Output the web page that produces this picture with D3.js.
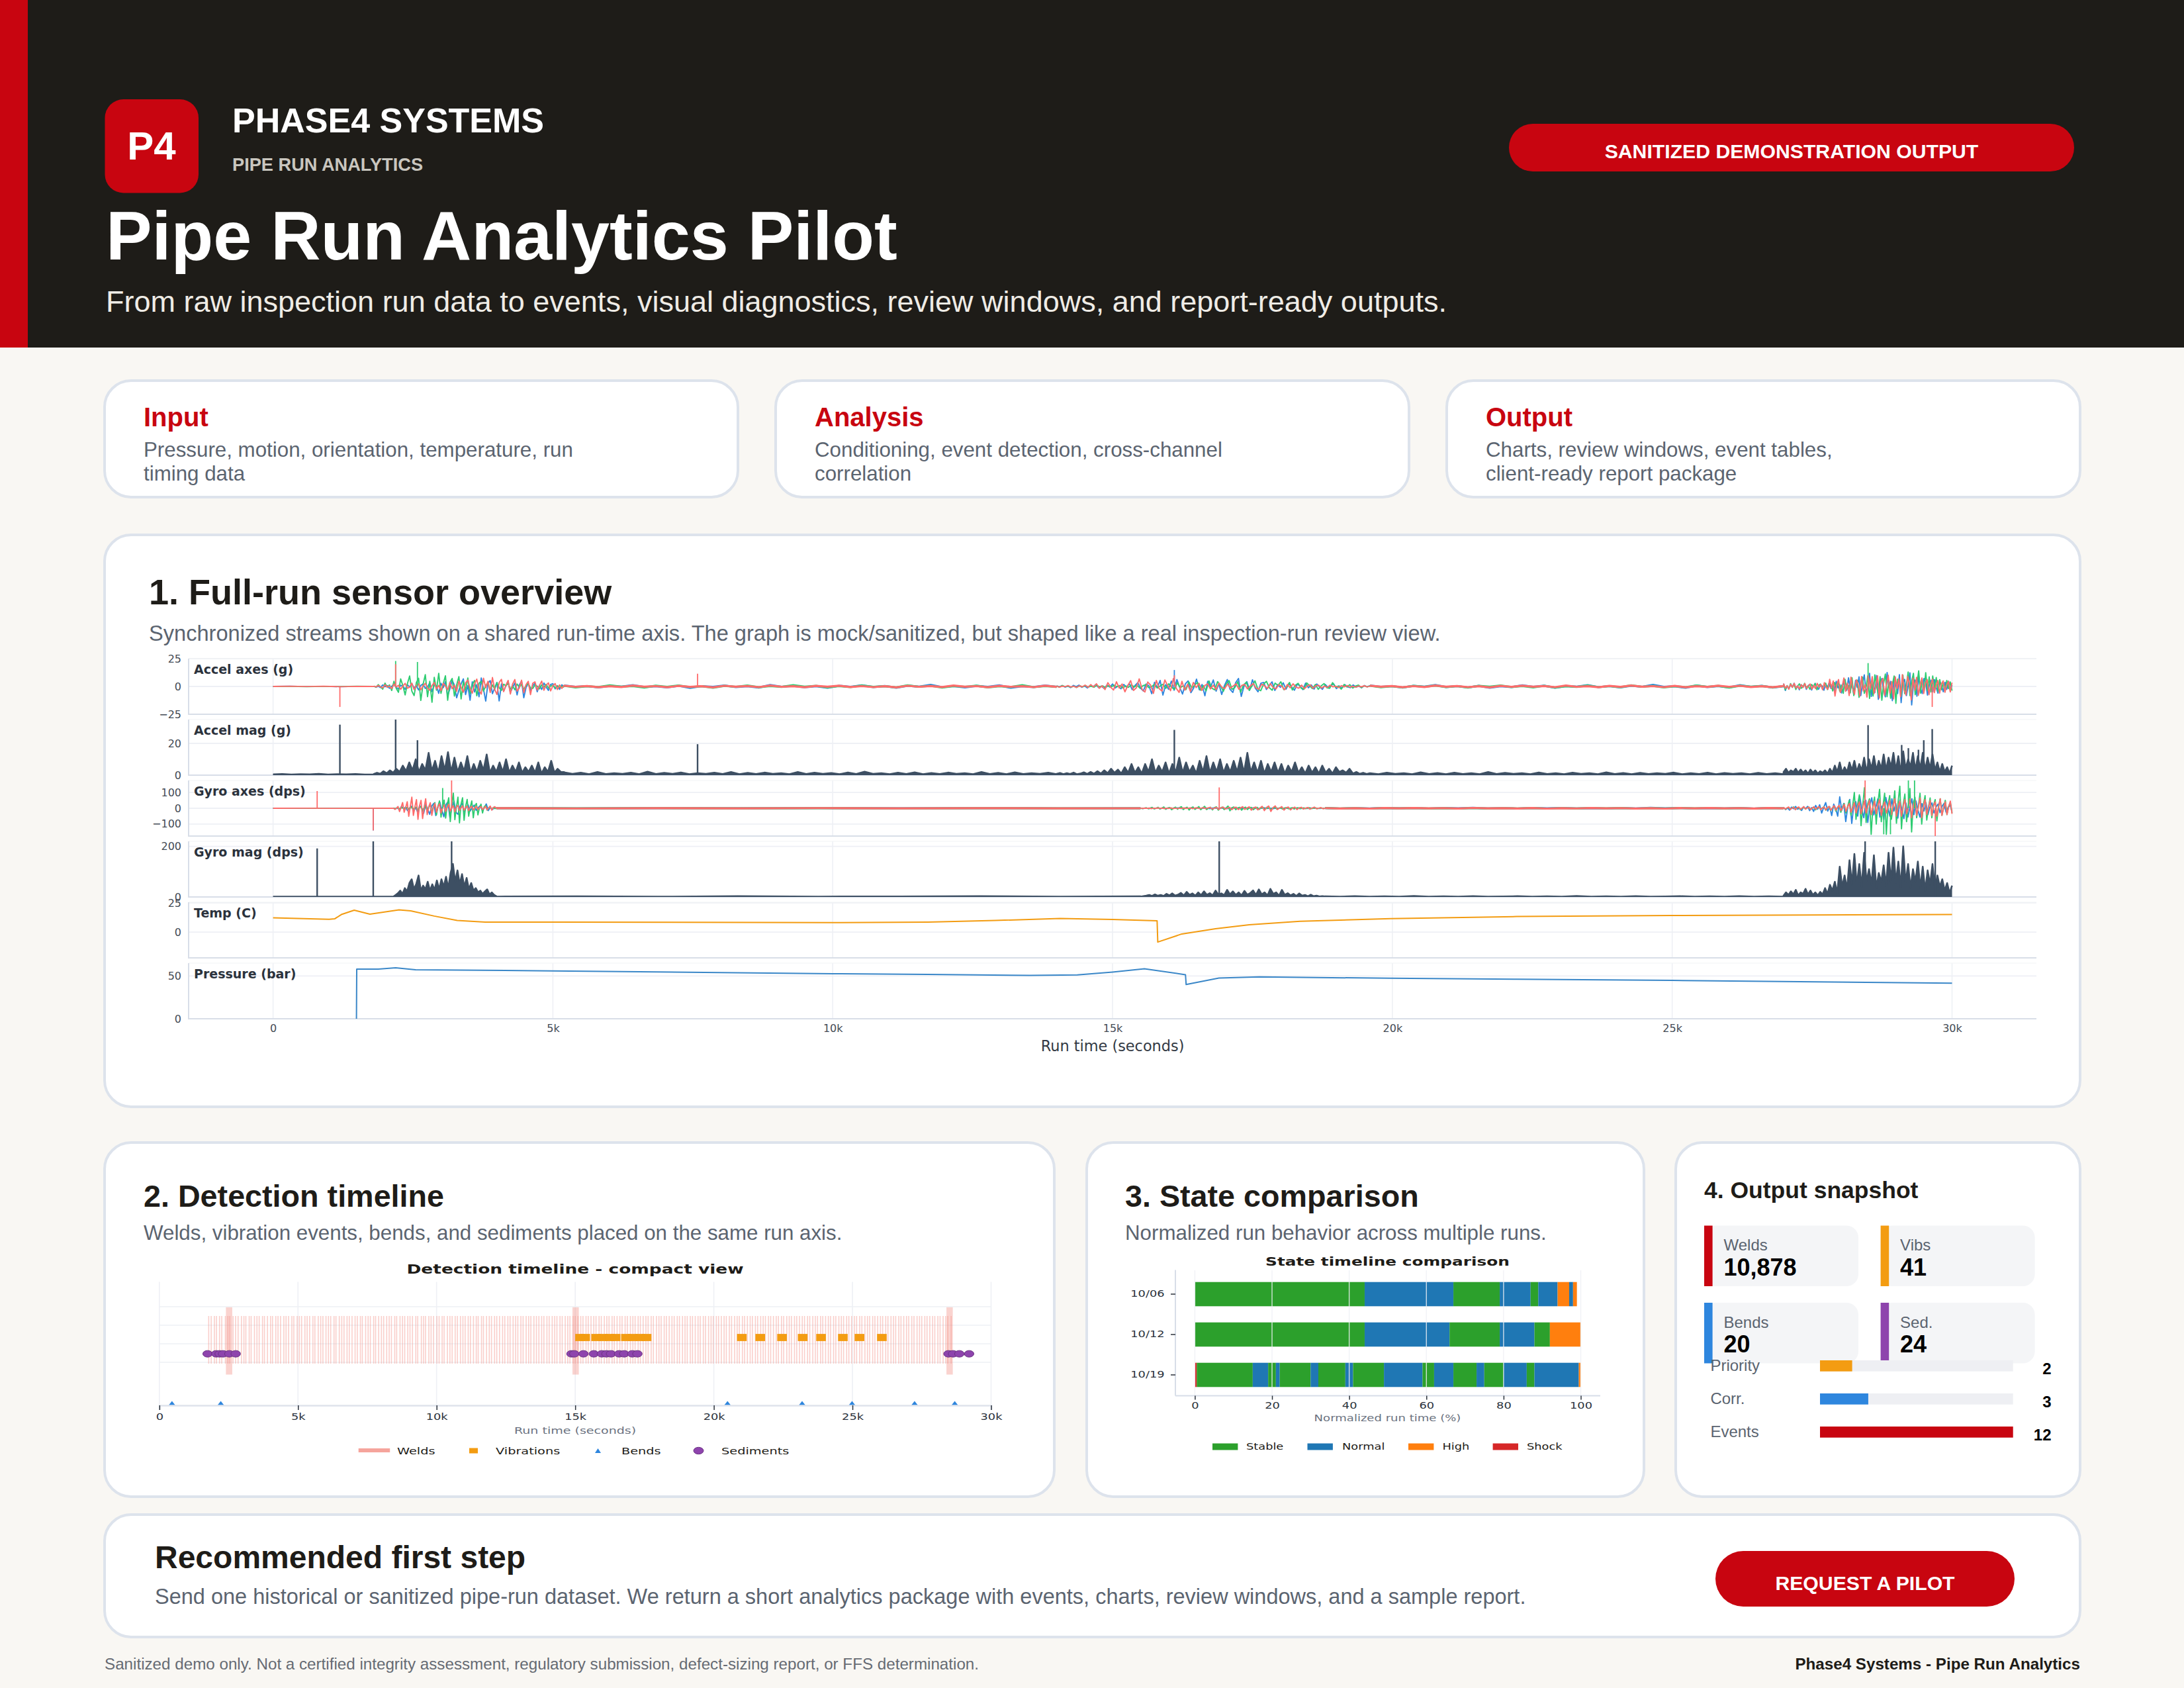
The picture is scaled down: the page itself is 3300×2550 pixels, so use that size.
<!DOCTYPE html>
<html>
<head>
<meta charset="utf-8">
<script src="https://cdn.jsdelivr.net/npm/d3@7"></script>
<style>
  html, body { margin: 0; padding: 0; background: #f9f7f3; }
  svg { display: block; }
</style>
</head>
<body>
<svg id="page" width="3300" height="2550"></svg>
<script>
// ---- sensor overview: values, one inner list per time span
const accelSpans = [[0, 1800], [1800, 5200], [5200, 14000], [14000, 19600], [19600, 26990], [26990, 30000]];
const gyroSpans = [[0, 2150], [2150, 3990], [3990, 15500], [15500, 18800], [18800, 26990], [26990, 30000]];
const spanWidths = [1.8, 1.9, 3.2, 1.9, 3.2, 1.9];

const accelX = [
  [0, .2, -.1, .1, -.2, .1, 0],
  [.3, -.6, .2, -1, 1.4, -.3, .8, -1.7, .2, 1.9, -.8, -2.2, 1, .3, -2.6, 1.6, -.5, 2.4, -1.3, .6, -3.1, .9, 2.3, -1.8, -.4, 3.3, -4.6, 1.2, .4, -6.2, 2.8, -1.1, 4.3, -8.4, -2, 5.6, 1.3, -10.2, -3.5, 2.4, 6.8, -7.3, .8, -12.4, 4.2, -5, 1.6, -9.3, 7.6, -2.4, -13.2, 3, 5.2, -6.5, -1.2, 3.6, -13, 2.2, -4.3, .6, 4.6, -5.4, -.9, 3.2, -7.6, 1.4, 4.8, -10.2, -1, 2.8, -3.6, .7, 2.9, -4.8, 1.1, -2.7, 3.1, -.6, -3.5, 1.8, 2.4, -2.2, .4, -2.6, 1.5, -.4],
  [.8, -.4, .3, -.9, .5, -.2, 1.2, -.5, .2, -.8, .6, -1.3, .3, -.4, .9, -.6, .2, -1, 1.3, -.3, .5, -.7, .2, -1.2, .6, -.3, 1, -.5, .4, -1.1, .7, -.2, 1.4, -.6, .3, -.9, .5, -.4, 1, -1.2, .2, -.5, .8, -.3],
  [.5, -.3, .8, -.6, .3, -1, .9, -.2, 1.2, -.7, .4, -1.3, .8, -.3, 1.6, -1, .3, -1.8, 1.2, -.5, 2.2, -1.4, .4, -2.1, 1.8, -.7, 2.6, -2.8, .8, 3.4, -1.5, -4, 2.2, .6, -6.5, 3.8, -1.2, 5.4, -7.8, 1.6, -2.6, 4.8, -3.4, 6.2, -.8, -6.8, 2.3, 5, -5.6, -1.4, 6.6, -3, 1.8, -8.4, 4.6, -.7, 5.8, -4.2, 2.4, -7.2, .9, 6.2, -2.6, -5.4, 3.4, 7.2, -9, .5, 4.3, -3.2, 6, -1.4, -4.8, 2.9, 3.6, -2.7, .7, 4.2, -3.6, 1.6, -.8, 3.2, -2.4, 2.6, -.5, -3.4, 2, .6, -2.8, 3, -1.2, 1.4, -2.4, 2.2, -.4, -2.6, 1.8, -1, .6, 2.4, -1.9, .5, -1.5, 1.6, -.3, -1.1, 1.4, -.6, .4, -1.2, .9, -.3, .7],
  [.9, -.4, .3, -1, .6, -.2, 1.3, -.5, .3, -.9, .5, -1.2, .2, -.6, 1, -.3, .7, -1.1, .4, -.2, 1.2, -.6, .3, -.9, .6, -.3, 1.4, -.4, .2, -1.2, .8, -.5, .3, -.8, 1.1, -.3, .5, -1, .2],
  [2.6, -3.6, .6, -2.2, 1.8, -.7, 2.9, -1.4, .5, -3, 1.6, -.4, 2.4, -2.6, .8, 1.9, -3.2, .3, 2.8, -1.2, -2.5, 1.4, .4, -3.4, 2.2, -.8, 3.4, -1.8, .7, -4.2, 4.6, -1.3, 1.8, -5.8, 4.2, -.6, -3.4, 7.8, -2.4, 1.6, -6.8, 5.4, -.9, 8.6, -8.2, 2.6, 10.4, -4.8, -.7, 11.8, -9, 3.2, -5.6, 9.8, -11.6, 1.4, 7.2, -3.8, -9.4, 12.6, -.8, 4.6, -12.8, 8.4, 1.6, -6.4, 10.6, -14.6, 3, 6.4, -8.2, .8, 12.2, -16.6, 2.6, 5.8, -8.8, 9.6, -1.6, -6.4, 7.2, 3, -7.8, 1.4, 5.6, -4.8, 6.2, -1.2, -6, 4.6, .8, -4.8, 3.8, -2.6, 4.6, -3.4, 1.2]
];
const accelY = [
  [0, .1, -.2, .1, -.1, .2, 0],
  [.3, -.7, 1.6, -.4, -2.4, 3, -.8, 1.4, -3.6, 4.6, -1.6, -5.2, 6.8, .6, -7.6, 2.4, 9.4, -4.2, -8.2, 3.4, 7.4, -12.6, 1.8, 10.6, -9.2, 4.6, -14.2, 8.2, -3.4, 11.8, -6.2, 2.4, 9.6, -12.4, 3.6, 7.2, -8.6, 1.2, 8.8, -11.2, 4.4, -3.2, 7.6, -6.6, 1.6, 5.4, -8.4, 2.8, 4.6, -4.2, .7, 3.6, -3.2, 1.4, -2.4, 3.4, -1, -3.6, 2, .6, 2.8, -2.4, .5, -3, 2.2, -.6, 1.8, -2.4, .7, 2.6, -1.3, -1.8, 1.4, .3, -2.2, 1.5, -.6, 1.8, -1.4, .4, 1, -1.5, .7, -1, .3, -.6],
  [.6, -.8, .2, -.5, 1, -.2, .4, -1, .7, -.3, .9, -.6, .2, -1.1, .5, -.3, .8, -.7, .3, -.4, 1.1, -.2, .5, -.9, .3, -.6, .9, -.4, .2, -.8, 1, -.3, .6, -1, .4, -.3, .7, -.8, .2, -.5, 1.1, -.6, .3, -.4],
  [.3, -.6, .8, -.2, .4, -.7, .2, -.9, .6, -.3, .8, -.5, .2, -.7, 1, -.3, .5, -1, .7, -.4, 1.2, -.3, .9, -1.4, .5, -.8, 1.4, -.4, 1, -1.6, .6, 1.5, -1, -.3, 1.8, -1.4, .4, 2, -1.7, 2.4, -.7, -2.6, 3.4, -1.2, .6, -2.8, 4, -1.4, 1, 3.6, -3.4, .8, -4, 5, -1.6, -3, 4.4, .7, -4.4, 2.4, 5.2, -2.6, -1, 4.2, -5.2, 1.4, 3.8, -3.6, .6, 5, -2.4, -3.8, 2.2, 4.6, -1.2, -3.4, 3, .9, 4.2, -2.8, -.8, 3.6, -3.2, 1, 2.8, -1.4, -2.6, 3.2, .6, -2, 1.8, -2.6, .5, 2.6, -1.2, -1.6, 3.4, -.8, .4, -2.4, 1.8, -.5, 1.6, -1.4, .3, 1.2, -1, .6, -.4, .5],
  [.6, -.7, .2, -.9, .5, -.3, .8, -.6, .3, -1, .6, -.2, .9, -.5, .3, -.8, .6, -1, .2, -.4, .9, -.6, .3, -.7, 1, -.3, .5, -.9, .2, -.6, .8, -.3, .5, -1, .7, -.2, .4, -.8, .3],
  [1.6, -3, .8, -2.2, 2.6, -.7, 1.8, -2.8, .4, 2.4, -1.6, -.6, 2.8, -1.4, .7, -2.6, 1.8, -.5, 2.6, -3, .9, 2.2, -1.8, .5, 3, -2.8, .6, 1.8, -4, 3.6, -.8, 4.6, -4.2, 1.2, -6.2, 6.4, -2.4, .9, -5.8, 7.8, -8.2, 2.2, 5.6, -9.8, 3.4, 8.4, -6.2, -1, 9.6, -10.8, 4.2, -8.6, 10.4, .8, -7.4, 8.8, -12.4, 2.6, 11.2, -9.2, 5.4, -10.6, 1.6, 9.4, -15.2, 6.6, 3, -8, 10.2, -6.4, 1.8, 13, -8.2, 4.6, 11.8, -7.4, 2.4, 14, -6, 6.6, -5.2, 12.4, -3.6, 8.6, -5, 9.4, -2.8, 8, -4.4, 6.2, -3, 3.6, -4.8, 5.4, -2, 4, -3.8]
];
const accelZ = [
  [0, .2, -.1, .2, -.2, .1, 0],
  [.2, -.4, .8, -.3, -1.2, 1.5, -.6, .4, -2, 2.2, -.5, 1, -2.6, .4, 2.8, -1.6, -.7, 3, -2.8, .9, 2.4, -3, .5, 2.8, -1.4, -3.4, .8, 3.6, -2.2, 1, -3.8, 2.8, .4, -3, 3.6, -2, 1.2, -4.4, 4.8, -.9, -5.2, 3.2, 5.8, -1.6, -6, 2.2, 6.6, -3.4, -6.8, 7.4, -1.2, 4.6, -5.4, 8, -2.6, -7.2, 3.6, 6.4, -4.6, .9, 5.4, -6.8, 2.2, 6.2, -4.2, -1.4, 5.6, -5.6, 1.6, 4.6, -7.4, 2.8, 4.2, -3.2, .8, 4.8, -3.4, 1.2, 3.2, -4, .6, 2.6, -2.8, 1.4, -1.8, 1.2],
  [.7, -.3, .4, -.7, .2, -.5, .8, -.2, .3, -.7, .5, -.4, .2, -.8, .6, -.2, .4, -.6, .8, -.3, .2, -.7, .5, -.2, .7, -.5, .3, -.6, .2, -.8, .6, -.3, .4, -.5, .8, -.2, .3, -.7, .5, -.3, .2, -.6, .7, -.4],
  [.4, -.7, .3, -.2, .8, -.5, .2, -.9, .6, -.3, 1.2, -.8, 1.6, -.4, 2.4, -1.6, .6, -2.8, 3.4, -.8, -3.2, 4.2, -1.4, 2.2, -4.8, .9, 5.2, -3.6, -1.2, 6.8, -2.6, -5, 4, 1.2, -6.2, 5.4, -2, -4.2, 5.8, .7, -3.8, 7.2, -1.6, -5.4, 4.6, -3.4, 2, -4.6, 3.6, -1, 2.8, -3.6, .8, 2.4, -2.2, 1.2, -2.8, 3, -.6, -2, 2.2, -1.4, .5, 2.4, -2.6, 1, 1.8, -2.2, .6, 2.6, -1.4, -2.4, 2, .5, -1.8, 2.6, -.9, -2.2, 1.6, .4, -3, 1.8, -1.2, 2.4, -.7, -1.6, 1.2, -2, .4, 1.5, -1.7, .6, 1.1, -1.4, .3, -.9, 1.2, -.4, .2, -1, .7, -.3, .8, -.6, .2, -.7, .4, -.3, .6, -.4, .2],
  [.7, -.2, .4, -.7, .3, -.5, .8, -.2, .4, -.6, .2, -.8, .5, -.3, .7, -.2, .4, -.6, .8, -.3, .2, -.7, .5, -.4, .8, -.2, .3, -.6, .5, -.7, .2, -.4, .7, -.3, .6, -.5, .2, -.7, .4],
  [2.6, -1.6, .6, -2.4, 2, -.7, 2.8, -1.4, .5, -2.2, 1.6, -.9, 2.6, -1.8, .4, 2.2, -2.4, 1, -2, 2.8, -.6, 1.8, -3, 3.4, -.8, -2.6, 6.4, -1.6, 5, -8.6, 1.4, 6.2, -5.4, -1, 7.6, -4.4, 3, -8.2, 8.4, -1.6, -7, 6, 2.4, -8.6, 9, -4, 1.6, -9.6, 7.8, -2, 8.8, -6.4, -.8, 9.6, -10.4, 3.6, 7.2, -8, 1.2, 10.2, -6.2, 4.4, -11.2, 8.6, -1.8, 6.8, -9.2, 10.6, -3, -7.6, 9, 2.2, -12.2, 7.4, -3.4, 8.2, -8, .9, 7.6, -6.4, 2.6, 6.2, -7.4, 1.6, 6.6, -5.6, .8, 5.4, -6, 2.2, 5, -5.2, 1.4, 4.6, -5, 3.4]
];
const accelMag = [
  [.5, .7, .4, .6, .5, .8, .4, .6, .5, .7, .4, .5],
  [.7, 1.5, .8, 2.5, 1.2, 3, 1.5, 4, 2, 6, 2.5, 8, 3, 10, 2, 7, 3, 14, 2.5, 9, 1.5, 12, 3, 14.5, 2, 11, 2, 8, 2.5, 12, 1.5, 7, 2, 9, 3, 13, 1.5, 6, 2, 8, 2, 10, 1.5, 6, 2, 8, 1.5, 5, 2, 6, 1.5, 8, 1, 5, 2, 9, 1.5, 4, 2, 2],
  [1.8, .8, 1.5, .6, 2, .7, 1.2, .8, 1.5, .6, 2.2, .7, 1.4, .8, 1.7, .6, 1.2, .8, 1.5, .7, 2, .6, 1.4, .7, 1.6, .8, 1.2, .6, 2, .7, 1.5, .8, 1.3, .6, 1.7, .7, 2.2, .8, 1.2, .6, 1.5, .7, 1.8, .6, 1.3, .7, 1.6, .8, 1.2, .6, 2, .7, 1.4, .6, 1.8, .7, 1.2, .8, 1.5, .6],
  [.8, 1.4, .6, 1.2, .7, 1.6, .6, 1, 1.8, .8, 2, .9, 2.5, 1, 3, 1.2, 4, 1.5, 3.5, 1, 5, 1.5, 7, 1.5, 5, 1, 7, 2, 10, 1.5, 6, 2, 8, 1, 7, 2, 11, 1.5, 8, 2, 6, 1, 9, 2, 12, 1.5, 8, 2, 10, 1.5, 7, 2, 9, 2, 11, 1.5, 14, 2, 8, 1.5, 9, 1, 7, 2, 8, 1.5, 7, 1, 6, 2, 8, 1.5, 5, 1, 6, 1.5, 5, 1, 6, 1.5, 4, 1, 5, 2, 3, 1.5, 4, 1, 2, .8, 1.5, .7, 1.2],
  [1.2, .6, 1.5, .8, 1.2, .6, 1.8, .7, 1.3, .6, 1.5, .7, 1.2, .6, 2, .7, 1.4, .8, 1.2, .6, 1.7, .7, 1.2, .6, 1.5, .8, 1.2, .6, 1.8, .7, 1.3, .6, 1.4, .7, 1.2, .8, 1.6, .6, 1.2, .7, 1.5, .6, 1.3, .8, 1.2, .6, 1.4, .7, 1.2, .6],
  [2, 4, 1.5, 3, 2, 4, 1.5, 3.5, 1.5, 3, 1, 3.5, 1.5, 3, 1, 2.5, 1.5, 3, 1, 4, 1.5, 6, 2, 8, 1.5, 5, 2, 8, 3, 9, 2, 7, 3, 11, 2, 10, 4, 12, 3, 9, 4, 13, 3, 11, 5, 14, 3, 12, 2, 15, 4, 10, 5, 14, 3, 12, 4, 14, 3, 11, 4, 13, 3, 8, 2, 7, 2, 5, 1, 6]
];
const accelSpikeT = [1194, 2190, 2580, 7585, 16104, 28500, 29646];
const accelSpikeX = [0, 0, 0, 0, 14.8, 0, 0];
const accelSpikeY = [0, 22.9, 22, 0, 0, 21, 0];
const accelSpikeZ = [-18.4, 20, 0, 11.5, 10, 10, -18.4];
const accelMagSpikes = [[1194, 31.8], [2190, 35], [2580, 22], [7585, 19.5], [16104, 28.5], [28500, 31.5], [29100, 19], [29220, 17], [29400, 16], [29495, 22], [29646, 29]];

const gyroX = [
  [0, .5, -.5, .5, 0],
  [1, -4, 2, -9, 11, -3, 6, -15, 2, 13, -19, 5, -24, 17, 3, -32, 26, -8, -38, 14, 31, -46, 6, 38, -12, -54, 22, 41, -60, 9, 46, -26, -38, 12, 30, -24, 5, 22, -18, 3, 20, -13, 4, 16, -11, 2, 27, -15, 6, -8, 3, 0],
  [.8, -1, .6, -.8, 1, -.6, .8, -1, 0],
  [.7, -1.4, .4, -1.8, 1.2, -.5, 1.8, -1, .4, -2, 1.3, -1.6, .6, 1.9, -.9, -1.4, .8, -2.2, 1.6, -.6, 2.2, -1.8, .5, 1.4, -2.4, .9, 2, -1.2, .4, 1.6, -2.6, .7, -1.8, 2.4, -.8, 1, -2, 1.6, -.4, 2.6, -1.3, -2, .8, 1.9, -1, .5, -2.2, 1.4, -.7, 1.6, -1.4, .5, -1.2, 1.6, -.6, .9, -1.6, .4, -.8, 1.2, -.4, .6, -1, .3, 0],
  [1.4, -2, .5, -1.4, 1.9, -.8, 1, -2.2, 1.6, -.4, 2.6, -1.6, .6, -2.2, 1.8, -.6, 2, -1.4, .5, -2, 1.4, -1, 2.8, -.6, 1.8, -2, .8, -1.6, 1.2, -2, 1.6, -.7],
  [5, -8, 1.6, -12, 7.4, -3, 11, -6, .9, -14, 9, -2.6, 12, -15, 4, -20, 18, -6, 22, -30, 5, 36, -18, 10, -46, 26, -2, -50, 72, -12, 30, -84, 8, 56, -96, 18, 42, -50, 76, -8, -60, 50, -90, 22, 66, -42, 6, 60, -56, 14, -72, 68, 4, -50, 60, -18, 30, -62, 52, -10, -66, 34, -56, 6, 60, -40, 46, -12, -56, 30, -18, 35, -40, 9, 34, -30, 6, 26, -28, 12, 30, -24, 5, 20, -20]
];
const gyroY = [
  [0, .5, -.5, .5, 0],
  [1, -2, .4, 3, -4, 1, 5, -6, .8, 6, -8, 2, 8, -6, 3, 7, -12, 4, 10, -15, 3, 14, -20, 6, 23, -30, 10, 36, -42, 14, 46, -56, 8, 52, -62, 20, 66, -84, 28, 96, -72, 8, 70, -92, 26, 66, -76, 12, 56, -50, 6, 46, -60, 14, 30, -42, 4, 26, -30, 8, 18, -12, 3, 10, -8, 5, -2, 0],
  [.8, -.6, 1, -.8, .6, -1, .7, -.8, 0],
  [.8, -2, .5, 3, -3.2, 1, 5.4, -4.2, .8, 6, -5, 1.6, 8, -6.4, 2, 5, -9, 1.2, 7, -6, 3.4, 10, -8, 1.6, 6.4, -11, 2.6, 8, -7, .8, 10, -9, 3, 12, -8, 1.4, 6, -10, 4, 9, -12, 2, 7, -8, 1, 14, -16, 3.4, 8, -9, 2, 6, -12, 1.6, 7, -8, 3, 5, -9, 1, 6, -7, 2, 5, -6, .8, 4, -7, 1.6, 5, -4, .6, 3, -5, 1.2, 4, -3, .5, 4, -5, 1, 3, -3, .4, 2, -2, 1, 3, -2, .6, 2, -2, .4, 1, -1, 0],
  [1.6, -1.4, .5, -2, 1.4, -.6, 1.9, -1.6, .5, -2.2, 1.6, -1.4, .6, -1, 1.8, -2, 1, -1.6, 2, -.6, 1.4, -2.2, .8, -1.6, 1.8, -.6, 2, -1.8, 1, -2, 1.6, -.8],
  [3.6, -6, 1.4, 5, -5, .7, 8, -7, 2, 5, -9, 1, 6, -5, 2.4, 7, -8, 1, 6, -10, 3, 8, -7, 1.6, 9, -12, 4, 10, -14, 2, 12, -18, 6, 15, -25, 8, 30, -30, 10, 50, -45, 14, 100, -70, 25, 85, -110, 18, 130, -90, 30, 60, -165, 12, 70, -100, 36, 120, -85, 16, 95, -165, 24, 80, -70, 8, 110, -95, 40, 140, -130, 22, 90, -85, 10, 125, -150, 34, 70, -60, 14, 95, -100, 22, 80, -75, 6, 65, -60, 18, 55, -80, 10, 60, -45, 4, 50, -40, 12, 35, -30]
];
const gyroZ = [
  [0, .5, -.5, .5, 0],
  [2, -7, 1, 11, -21, 5, 36, -25, 4, 41, -51, 12, 70, -45, 8, 55, -70, 16, 50, -65, 6, 60, -40, 9, 35, -45, 4, 30, -25, 10, 28, -30, 3, 22, -20, 6, 25, -18, 3, 15, -22, 7, 18, -14, 2, 15, -12, 4, 14, -15, 5, 12, -10, 2, 12, -8, 4, 10, -7, 1, 12, -10, 3, 14, -12, 4, 10, 0],
  [.8, -1, .5, -.8, 1, -.5, .8, -.9, 0],
  [.4, -1, .8, -.5, 1.2, -2, .6, -1.2, 2, -.8, 1, -2, .5, -1, 2, -2.2, .7, -1.8, 1.2, -.6, 2.2, -1.2, .5, 2, -2.4, 1, 3, -2, .8, 4, -3, 1.6, 6, -5, 1, 5, -7, 2, 8, -5, .9, 6, -9, 3, 7, -8, 1.5, 10, -7, 2, 9, -12, 3, 8, -10, 2, 12, -15, 5, 14, -20, 4, 15, -8, 2, 10, -12, 3, 8, -10, 1, 7, -8, 2, 6, -5, 1, 5, -6, 2, 7, -3, .5, 4, -3, 0],
  [1, -1.6, .4, -2, 1.2, -.8, 1.8, -.6, 1, -1.4, 2, -.5, .9, -1.2, 1.4, -2, .6, -1, 1.8, -.8, 1, -1.4, .6, -2, 1.2, -.9, 1.8, -.5, 1, -1.3, 1.4, -.8],
  [6.6, -5.4, 2, 8, -7, 1, 6, -9, 3, 8, -6, 1.4, 10, -5, 2, 7, -8, .8, 9, -6, 3, 10, -9, 1, 8, -10, 4, 12, -12, 2, 16, -12, 5, 18, -15, 2, 25, -20, 8, 30, -25, 3, 35, -30, 12, 40, -35, 6, 45, -30, 14, 50, -40, 4, 45, -35, 18, 55, -45, 9, 40, -30, 3, 50, -40, 16, 60, -50, 6, 45, -50, 12, 55, -35, 2, 60, -60, 20, 50, -45, 7, 65, -60, 12, 55, -40, 4, 50, -45, 15, 40, -50, 8, 60, -45, 3, 40, -40, 10, 45, -35]
];
const gyroMag = [
  [1, 1.5, 1, 1.5, 1],
  [1, 8, 15, 25, 12, 35, 22, 55, 70, 30, 52, 85, 25, 45, 30, 60, 25, 50, 28, 65, 30, 70, 40, 80, 35, 95, 131, 60, 105, 50, 90, 40, 75, 30, 55, 25, 35, 18, 25, 12, 22, 30, 10, 18, 8, 3],
  [1.5, 2.5, 1, 3, 1.5, 2, 3, 1, 2.5],
  [1, 3, 5, 8, 4, 10, 5, 8, 4, 12, 6, 14, 5, 9, 16, 6, 20, 8, 14, 5, 18, 7, 22, 8, 15, 6, 25, 9, 14, 7, 28, 10, 22, 8, 18, 6, 24, 9, 15, 26, 8, 30, 10, 18, 6, 32, 12, 18, 5, 28, 8, 15, 6, 12, 4, 14, 5, 8, 3, 9, 3, 5, 2, 3, 2],
  [2.5, 1.5, 3, 1, 2.5, 1.5, 3.5, 1, 2.5, 1.5, 3, 1, 2, 3, 1.5, 2.5, 1, 3.5, 1.5, 2.5, 1, 3, 1.5, 2, 3, 1, 2.5, 1.5, 3, 1, 2.5, 1.5],
  [5, 18, 8, 22, 10, 28, 6, 18, 12, 32, 10, 25, 8, 18, 6, 20, 10, 35, 12, 48, 25, 60, 15, 120, 40, 85, 30, 145, 50, 170, 45, 130, 40, 175, 60, 110, 50, 165, 35, 95, 60, 125, 45, 175, 60, 195, 55, 140, 40, 200, 55, 130, 35, 110, 60, 140, 35, 120, 25, 105, 50, 130, 30, 85, 40, 70, 25, 55, 15, 45]
];
const gyroSpikeT = [788, 1790, 3030, 3190, 16906, 28447, 28780, 28900, 29220, 29330, 29700];
const gyroSpikeX = [0, -140, 0, 0, 0, 0, 0, 0, 0, 0, 0];
const gyroSpikeY = [0, 0, 128, 0, 0, 0, -165, -165, 176, 176, 0];
const gyroSpikeZ = [109, -140, 0, 176, 132, 176, 0, 0, 0, 0, -176];
const gyroMagSpikes = [[788, 192], [1790, 220], [3190, 220], [16906, 220], [28447, 220], [29700, 220]];

const tempT = [0, 1000, 1100, 1220, 1450, 1730, 2250, 2460, 2880, 3290, 3790, 5000, 10000, 11700, 12900, 14065, 15000, 15796, 15808, 16237, 16840, 17443, 18350, 19965, 22220, 25000, 30000];
const tempV = [12.2, 11, 11.3, 15, 18.7, 15.3, 19, 18.2, 13.7, 9.9, 8.6, 8.5, 8.1, 8.5, 9.9, 11.7, 10.8, 9.7, -8.5, -1.6, 2.9, 6.3, 9.2, 11.5, 13.3, 14.2, 15.1];
const pressT = [1490, 1495, 1880, 2190, 2545, 5000, 10000, 11700, 13520, 14370, 15000, 15570, 16303, 16315, 16900, 17620, 19965, 22220, 25000, 30000];
const pressV = [0, 58, 58.1, 59.5, 57.3, 56, 52.7, 51.8, 50.6, 51.2, 54.6, 58.5, 51.5, 40, 47.6, 49, 47.3, 46.3, 44.8, 41.5];

const panelNames = ['Accel axes (g)', 'Accel mag (g)', 'Gyro axes (dps)', 'Gyro mag (dps)', 'Temp (C)', 'Pressure (bar)'];
const panelDomains = [[-25, 25], [0, 35], [-176, 176], [0, 220], [-22, 25.5], [0, 65]];
const panelTicks = [[-25, 0, 25], [0, 20], [-100, 0, 100], [0, 200], [0, 25], [0, 50]];
const runTicks = [0, 5000, 10000, 15000, 20000, 25000, 30000];

// ---- detection timeline
const weldTimes = [1780, 1870, 1985, 2060, 2170, 2250, 2380, 2470, 2540, 2660, 2750, 2840, 2960, 3050, 3120, 3240, 3310, 3430, 3520, 3600, 3720, 3790, 3900, 4010, 4080, 4200, 4280, 4370, 4490, 4570, 4660, 4780, 4850, 4970, 5050, 5130, 5250, 5330, 5420, 5540, 5610, 5730, 5820, 5900, 6010, 6100, 6180, 6300, 6370, 6490, 6580, 6660, 6770, 6850, 6950, 7060, 7140, 7250, 7320, 7440, 7530, 7610, 7730, 7800, 7910, 8010, 8090, 8200, 8290, 8370, 8490, 8560, 8680, 8770, 8850, 8960, 9040, 9130, 9250, 9320, 9450, 9530, 9600, 9720, 9800, 9890, 10010, 10090, 10200, 10270, 10390, 10480, 10560, 10670, 10750, 10860, 10950, 11030, 11140, 11220, 11330, 11430, 11500, 11620, 11690, 11800, 11900, 11980, 12090, 12170, 12270, 12380, 12460, 12570, 12650, 12760, 12850, 12930, 13040, 13120, 13230, 13320, 13400, 13510, 13600, 13690, 13790, 13870, 13980, 14060, 14170, 14260, 14340, 14450, 14530, 14640, 14730, 14810, 14920, 15000, 15100, 15200, 15280, 15390, 15470, 15570, 15670, 15750, 15860, 15940, 16050, 16140, 16220, 16330, 16410, 16510, 16610, 16690, 16800, 16880, 16990, 17080, 17160, 17270, 17350, 17450, 17550, 17630, 17740, 17820, 17930, 18020, 18100, 18210, 18290, 18390, 18490, 18570, 18680, 18760, 18870, 18960, 19040, 19150, 19230, 19330, 19430, 19510, 19620, 19700, 19810, 19900, 19980, 20090, 20170, 20270, 20370, 20450, 20560, 20640, 20750, 20840, 20920, 21030, 21110, 21210, 21310, 21390, 21500, 21580, 21690, 21780, 21860, 21970, 22050, 22150, 22250, 22330, 22440, 22520, 22630, 22720, 22800, 22910, 22990, 23090, 23190, 23270, 23380, 23460, 23570, 23660, 23740, 23850, 23930, 24030, 24130, 24210, 24320, 24400, 24510, 24600, 24680, 24790, 24870, 24970, 25070, 25150, 25260, 25340, 25450, 25540, 25620, 25730, 25810, 25910, 26010, 26090, 26200, 26280, 26390, 26480, 26560, 26670, 26750, 26850, 26950, 27030, 27140, 27220, 27330, 27420, 27500, 27610, 27690, 27790, 27890, 27970, 28080, 28160, 28270, 28360, 28440, 28560];
const weldBands = [2515, 15015, 28505];
const vibTimes = [15173, 15359, 15753, 16001, 16250, 16456, 16829, 17078, 17347, 17574, 21010, 21673, 22460, 23205, 23867, 24654, 25254, 26061];
const bendTimes = [455, 2215, 20493, 23184, 24985, 27241, 28690];
const sedimentTimes = [1739, 2049, 2174, 2298, 2525, 2753, 14863, 14966, 15297, 15670, 15960, 16125, 16291, 16581, 16767, 17057, 17243, 28462, 28628, 28856, 29208];
const timelineRows = [1, 2, 3, 4];
const timelineLegend = ['Welds', 'Vibrations', 'Bends', 'Sediments'];

// ---- state comparison
const runLabels = ['10/06', '10/12', '10/19'];
const runStates = [
  ['Stable', 'Normal', 'Stable', 'Normal', 'Stable', 'Normal', 'High', 'Normal', 'High'],
  ['Stable', 'Normal', 'Stable', 'Normal', 'Stable', 'High'],
  ['Shock', 'Stable', 'Normal', 'Stable', 'Normal', 'Stable', 'Normal', 'Stable', 'Normal', 'Stable', 'Normal', 'Stable', 'Normal', 'Stable', 'Normal', 'Stable', 'Normal', 'Stable', 'Normal', 'High']
];
const runDurations = [
  [44, 23, 12, 8, 2, 5, 3, 1, 1],
  [44, 22, 13, 9, 4, 8],
  [.5, 14.5, 4, 2, 1, 8, 2, 7, 2, 8, 10, 3, 5, 6, 2, 5, 6, 2, 11.5, .5]
];
const stateNames = ['Stable', 'Normal', 'High', 'Shock'];
const stateColors = ['#2ca02c', '#1f77b4', '#ff7f0e', '#d62728'];
const stateTicks = [0, 20, 40, 60, 80, 100];

// ---- output snapshot
const kpiNames = ['Welds', 'Vibs', 'Bends', 'Sed.'];
const kpiValues = ['10,878', '41', '20', '24'];
const kpiColors = ['#c80510', '#f39c12', '#2e86de', '#8e44ad'];
const reviewNames = ['Priority', 'Corr.', 'Events'];
const reviewValues = [2, 3, 12];
const reviewColors = ['#f39c12', '#2e86de', '#c80510'];

const svg = d3.select('#page');
const UI = '"Liberation Sans", Arial, sans-serif';
const PLOT = '"DejaVu Sans", sans-serif';
const RED = '#c80510';
const INK = '#1e1c18';
const MUTED = '#5b6470';
const GRID = '#eef0f5';
const SPINE = '#d8dee8';

function label(parent, x, y, str, size, opts = {}) {
  return parent.append('text')
    .attr('x', x)
    .attr('y', y)
    .attr('font-family', opts.family || UI)
    .attr('font-size', size)
    .attr('font-weight', opts.weight || 'normal')
    .attr('fill', opts.fill || INK)
    .attr('text-anchor', opts.anchor || 'start')
    .text(str);
}

function card(x0, y0, x1, y1) {
  svg.append('rect')
    .attr('x', x0).attr('y', y0)
    .attr('width', x1 - x0).attr('height', y1 - y0)
    .attr('rx', 40)
    .attr('fill', '#fff')
    .attr('stroke', '#dde3ec')
    .attr('stroke-width', 4);
}

// ---- header
svg.append('rect').attr('width', 3300).attr('height', 2550).attr('fill', '#f9f7f3');
svg.append('rect').attr('width', 3300).attr('height', 525).attr('fill', INK);
svg.append('rect').attr('width', 42).attr('height', 525).attr('fill', RED);
svg.append('rect').attr('x', 158.5).attr('y', 150).attr('width', 141.5).attr('height', 141.5).attr('rx', 28).attr('fill', RED);
label(svg, 229, 241, 'P4', 60, { weight: 'bold', fill: '#fff', anchor: 'middle' });
label(svg, 351, 200, 'PHASE4 SYSTEMS', 52, { weight: 'bold', fill: '#fff' });
label(svg, 351, 258, 'PIPE RUN ANALYTICS', 27.2, { weight: 'bold', fill: '#c9c6bf' });
label(svg, 160, 392, 'Pipe Run Analytics Pilot', 104.3, { weight: 'bold', fill: '#fff' });
label(svg, 160, 471, 'From raw inspection run data to events, visual diagnostics, review windows, and report-ready outputs.', 45, { fill: '#efece6' });
svg.append('rect').attr('x', 2280).attr('y', 187).attr('width', 854).attr('height', 72).attr('rx', 36).attr('fill', RED);
label(svg, 2707, 239, 'SANITIZED DEMONSTRATION OUTPUT', 30.2, { weight: 'bold', fill: '#fff', anchor: 'middle' });

// ---- input / analysis / output row
const stepCards = [
  [158, 1115, 'Input', 'Pressure, motion, orientation, temperature, run', 'timing data'],
  [1172, 2129, 'Analysis', 'Conditioning, event detection, cross-channel', 'correlation'],
  [2186, 3143, 'Output', 'Charts, review windows, event tables,', 'client-ready report package']
];
stepCards.forEach(c => {
  card(c[0], 575, c[1], 751);
  label(svg, c[0] + 59, 644, c[2], 40, { weight: 'bold', fill: RED });
  label(svg, c[0] + 59, 690, c[3], 31.3, { fill: MUTED });
  label(svg, c[0] + 59, 726, c[4], 31.3, { fill: MUTED });
});

// ---- 1. sensor overview
card(158, 808, 3143, 1672);
label(svg, 225, 913, '1. Full-run sensor overview', 54, { weight: 'bold' });
label(svg, 225, 968, 'Synchronized streams shown on a shared run-time axis. The graph is mock/sanitized, but shaped like a real inspection-run review view.', 32.6, { fill: MUTED });

const runX = d3.scaleLinear().domain([0, 30000]).range([412.6, 2949.5]);
const plotLeft = 285, plotRight = 3077, panelTop = 995, panelHeight = 84, panelPitch = 92;

function spanPoints(spans, lists) {
  return spans.flatMap((span, i) => lists[i].map((v, j) => [
    span[0] + (span[1] - span[0]) * j / Math.max(1, lists[i].length - 1), v
  ]));
}

const panels = panelNames.map((name, i) => {
  const top = panelTop + i * panelPitch;
  const y = d3.scaleLinear().domain(panelDomains[i]).range([top + panelHeight, top]);
  const g = svg.append('g');

  g.selectAll('.vgrid').data(runTicks).enter().append('line')
    .attr('x1', d => runX(d)).attr('x2', d => runX(d))
    .attr('y1', top).attr('y2', top + panelHeight)
    .attr('stroke', GRID).attr('stroke-width', 1.6);
  g.selectAll('.hgrid').data(panelTicks[i]).enter().append('line')
    .attr('x1', plotLeft).attr('x2', plotRight)
    .attr('y1', d => y(d)).attr('y2', d => y(d))
    .attr('stroke', GRID).attr('stroke-width', 1.8);
  g.append('line').attr('x1', plotLeft).attr('x2', plotRight).attr('y1', top).attr('y2', top)
    .attr('stroke', '#f1f3f6').attr('stroke-width', 1.2);
  g.append('line').attr('x1', plotLeft).attr('x2', plotLeft).attr('y1', top).attr('y2', top + panelHeight)
    .attr('stroke', SPINE).attr('stroke-width', 2);
  g.append('line').attr('x1', plotLeft - 1).attr('x2', plotRight).attr('y1', top + panelHeight).attr('y2', top + panelHeight)
    .attr('stroke', SPINE).attr('stroke-width', 2);

  svg.append('clipPath').attr('id', 'clip' + i).append('rect')
    .attr('x', plotLeft).attr('y', top).attr('width', plotRight - plotLeft).attr('height', panelHeight);

  const marks = g.append('g').attr('clip-path', `url(#clip${i})`);

  const axis = g.append('g')
    .attr('transform', `translate(${plotLeft - 9}, 0)`)
    .call(d3.axisLeft(y).tickValues(panelTicks[i]).tickSize(0).tickPadding(2));
  axis.select('.domain').remove();
  axis.selectAll('text').attr('font-family', PLOT).attr('font-size', 16).attr('fill', '#444b55');

  label(g, 293, top + 23, name, 19, { family: PLOT, weight: 'bold', fill: '#2b323c' });
  return { y, marks };
});

const lineGen = y => d3.line().x(d => runX(d[0])).y(d => y(d[1]));

function drawTrace(panel, points, color, width) {
  panel.marks.append('path')
    .attr('d', lineGen(panel.y)(points))
    .attr('fill', 'none')
    .attr('stroke', color)
    .attr('stroke-width', width)
    .attr('stroke-linejoin', 'round');
}

// axis traces: the quiet spans carry a thicker pen so the fine jitter reads as a band
function drawAxisTrace(panel, spans, lists, color) {
  spans.forEach((span, i) => drawTrace(panel, spanPoints([span], [lists[i]]), color, spanWidths[i]));
}

function drawMagTrace(panel, points) {
  const area = d3.area().x(d => runX(d[0])).y0(panel.y(0)).y1(d => panel.y(d[1]));
  panel.marks.append('path').attr('d', area(points)).attr('fill', magColor);
  drawTrace(panel, points, magColor, 2.6);
}

function drawSpikes(panel, times, values, color, width) {
  panel.marks.selectAll(null).data(times.map((t, i) => [t, values[i]]).filter(d => d[1] !== 0)).enter().append('line')
    .attr('x1', d => runX(d[0])).attr('x2', d => runX(d[0]))
    .attr('y1', panel.y(0)).attr('y2', d => panel.y(d[1]))
    .attr('stroke', color).attr('stroke-width', width);
}

const axisColors = ['#2e86de', '#2ecc71', '#ff6b6b'];
const magColor = '#3d4f63';

[accelX, accelY, accelZ].forEach((list, i) => drawAxisTrace(panels[0], accelSpans, list, axisColors[i]));
[accelSpikeX, accelSpikeY, accelSpikeZ].forEach((list, i) => drawSpikes(panels[0], accelSpikeT, list, axisColors[i], 1.8));
drawMagTrace(panels[1], spanPoints(accelSpans, accelMag));
drawSpikes(panels[1], accelMagSpikes.map(d => d[0]), accelMagSpikes.map(d => d[1]), magColor, 2.4);

[gyroX, gyroY, gyroZ].forEach((list, i) => drawAxisTrace(panels[2], gyroSpans, list, axisColors[i]));
[gyroSpikeX, gyroSpikeY, gyroSpikeZ].forEach((list, i) => drawSpikes(panels[2], gyroSpikeT, list, axisColors[i], 1.8));
drawMagTrace(panels[3], spanPoints(gyroSpans, gyroMag));
drawSpikes(panels[3], gyroMagSpikes.map(d => d[0]), gyroMagSpikes.map(d => d[1]), magColor, 2.4);

drawTrace(panels[4], tempT.map((t, i) => [t, tempV[i]]), '#f39c12', 2);
drawTrace(panels[5], pressT.map((t, i) => [t, pressV[i]]), '#3a87c8', 2);

const runAxis = svg.append('g')
  .attr('transform', `translate(0, ${panelTop + 5 * panelPitch + panelHeight + 4})`)
  .call(d3.axisBottom(runX).tickValues(runTicks).tickSize(0).tickPadding(5)
    .tickFormat(d => d ? d / 1000 + 'k' : '0'));
runAxis.select('.domain').remove();
runAxis.selectAll('text').attr('font-family', PLOT).attr('font-size', 16).attr('fill', '#444b55');
label(svg, runX(15000), 1588, 'Run time (seconds)', 22.4, { family: PLOT, fill: '#333a44', anchor: 'middle' });

// ---- 2. detection timeline
card(158, 1726, 1593, 2261);
label(svg, 217, 1823, '2. Detection timeline', 46.7, { weight: 'bold' });
label(svg, 217, 1873, 'Welds, vibration events, bends, and sediments placed on the same run axis.', 31.3, { fill: MUTED });

// the two small charts sit horizontally stretched in the layout
const stretched = (parent, x, y, str, size, sx, opts = {}) => label(parent, 0, 0, str, size, Object.assign({ family: PLOT }, opts))
  .attr('transform', `translate(${x}, ${y}) scale(${sx}, 1)`);

const tlX = d3.scaleLinear().domain([0, 30000]).range([240.8, 1497.5]);
const tlY = d3.scaleLinear().domain([-1.32, 5.34]).range([2123, 1936.5]);
const tl = svg.append('g');

tl.selectAll(null).data(runTicks).enter().append('line')
  .attr('x1', d => tlX(d)).attr('x2', d => tlX(d))
  .attr('y1', tlY.range()[1]).attr('y2', tlY.range()[0])
  .attr('stroke', GRID).attr('stroke-width', 1.6);
tl.selectAll(null).data(timelineRows).enter().append('line')
  .attr('x1', tlX(0)).attr('x2', tlX(30000))
  .attr('y1', d => tlY(d)).attr('y2', d => tlY(d))
  .attr('stroke', GRID).attr('stroke-width', 1.6);

tl.selectAll(null).data(weldTimes).enter().append('line')
  .attr('x1', d => tlX(d)).attr('x2', d => tlX(d))
  .attr('y1', tlY(3.5)).attr('y2', tlY(.93))
  .attr('stroke', '#f28c82').attr('stroke-opacity', .42).attr('stroke-width', 1.6);
tl.selectAll(null).data(weldBands).enter().append('rect')
  .attr('x', d => tlX(d) - 4.8).attr('width', 9.6)
  .attr('y', tlY(3.97)).attr('height', tlY(.34) - tlY(3.97))
  .attr('fill', '#f28c82').attr('fill-opacity', .38);

tl.selectAll(null).data(vibTimes).enter().append('rect')
  .attr('x', d => tlX(d) - 7.3).attr('width', 14.6)
  .attr('y', tlY(2.34) - 5.4).attr('height', 10.8)
  .attr('fill', '#f39c12');
tl.selectAll(null).data(sedimentTimes).enter().append('ellipse')
  .attr('cx', d => tlX(d)).attr('cy', tlY(1.46))
  .attr('rx', 7.2).attr('ry', 5)
  .attr('fill', '#8e44ad').attr('stroke', '#6c3483').attr('stroke-width', 1);

const triangle = (x, y, w, h) => `M${x - w / 2},${y + h / 2}L${x},${y - h / 2}L${x + w / 2},${y + h / 2}Z`;
tl.selectAll(null).data(bendTimes).enter().append('path')
  .attr('d', d => triangle(tlX(d), tlY(-1.25) - 1, 11, 7))
  .attr('fill', '#2e86de');

const tlAxis = tl.append('g')
  .attr('transform', 'translate(0, 2123)')
  .call(d3.axisBottom(tlX).tickValues(runTicks).tickSize(7).tickPadding(5)
    .tickFormat(d => d ? d / 1000 + 'k' : '0'));
tlAxis.select('.domain').attr('stroke', '#dfe4ec').attr('stroke-width', 2.5);
tlAxis.selectAll('line').attr('stroke', '#2b323c').attr('stroke-width', 1.5);
tlAxis.selectAll('text').attr('font-family', PLOT).attr('font-size', 14).attr('fill', '#2b323c').attr('transform', 'scale(1.27, 1)');

stretched(tl, 869, 1923.5, 'Detection timeline - compact view', 19, 1.39, { weight: 'bold', anchor: 'middle' });
stretched(tl, 869, 2166, 'Run time (seconds)', 14, 1.36, { fill: '#6b7280', anchor: 'middle' });

tl.append('rect').attr('x', 541.7).attr('y', 2188).attr('width', 47.5).attr('height', 6).attr('fill', '#f5a49c');
tl.append('rect').attr('x', 709).attr('y', 2187.5).attr('width', 13).attr('height', 8).attr('fill', '#f39c12');
tl.append('path').attr('d', triangle(903.5, 2191.5, 9, 7)).attr('fill', '#2e86de');
tl.append('ellipse').attr('cx', 1055.5).attr('cy', 2191.5).attr('rx', 7.5).attr('ry', 5.2)
  .attr('fill', '#8e44ad').attr('stroke', '#6c3483').attr('stroke-width', 1);
[600, 749, 939, 1090].forEach((x, i) => stretched(tl, x, 2196.5, timelineLegend[i], 14, 1.38));

// ---- 3. state comparison
card(1642, 1726, 2484, 2261);
label(svg, 1700, 1823, '3. State comparison', 46.7, { weight: 'bold' });
label(svg, 1700, 1873, 'Normalized run behavior across multiple runs.', 31.3, { fill: MUTED });

const stX = d3.scaleLinear().domain([0, 100]).range([1805.4, 2388.5]);
const stY = d3.scaleBand().domain(runLabels).range([1936.7, 2095.3]).paddingInner(.4).paddingOuter(0);
const st = svg.append('g');
const stateColor = d3.scaleOrdinal().domain(stateNames).range(stateColors);

runLabels.forEach((run, r) => {
  const ends = d3.cumsum(runDurations[r]);
  st.selectAll(null).data(runStates[r]).enter().append('rect')
    .attr('x', (d, i) => stX(ends[i] - runDurations[r][i]))
    .attr('width', (d, i) => stX(ends[i]) - stX(ends[i] - runDurations[r][i]))
    .attr('y', stY(run)).attr('height', stY.bandwidth())
    .attr('fill', d => stateColor(d));
});

st.selectAll(null).data(stateTicks).enter().append('line')
  .attr('x1', d => stX(d)).attr('x2', d => stX(d))
  .attr('y1', 1919).attr('y2', 2108)
  .attr('stroke', GRID).attr('stroke-width', 1.4).attr('stroke-opacity', .85);

const stBottom = st.append('g')
  .attr('transform', 'translate(0, 2108.5)')
  .call(d3.axisBottom(stX).tickValues(stateTicks).tickSize(6).tickPadding(4).tickSizeOuter(0));
stBottom.select('.domain').attr('d', 'M1776,0H2418').attr('stroke', SPINE).attr('stroke-width', 2);
stBottom.selectAll('line').attr('stroke', '#2b323c').attr('stroke-width', 1.5);
stBottom.selectAll('text').attr('font-family', PLOT).attr('font-size', 14).attr('fill', '#2b323c').attr('transform', 'scale(1.27, 1)');

const stLeft = st.append('g')
  .attr('transform', 'translate(1776, 0)')
  .call(d3.axisLeft(stY).tickSize(7).tickPadding(7));
stLeft.select('.domain').attr('d', 'M0,1918.5V2108.5').attr('stroke', SPINE).attr('stroke-width', 2);
stLeft.selectAll('line').attr('stroke', '#2b323c').attr('stroke-width', 1.5);
stLeft.selectAll('text').attr('font-family', PLOT).attr('font-size', 14).attr('fill', '#2b323c')
  .attr('transform', 'scale(1.27, 1)').attr('x', -13);

stretched(st, 2096.5, 1912, 'State timeline comparison', 18.5, 1.34, { weight: 'bold', anchor: 'middle' });
stretched(st, 2096.5, 2146.5, 'Normalized run time (%)', 14, 1.29, { fill: '#6b7280', anchor: 'middle' });

[1832, 1975.5, 2128, 2255.6].forEach((x, i) => {
  st.append('rect').attr('x', x).attr('y', 2180.5).attr('width', 38.4).attr('height', 10).attr('fill', stateColors[i]);
});
[1883, 2028, 2179.5, 2307].forEach((x, i) => stretched(st, x, 2189.5, stateNames[i], 14, 1.27));

// ---- 4. output snapshot
card(2532, 1726, 3143, 2261);
label(svg, 2575, 1810, '4. Output snapshot', 35.5, { weight: 'bold' });

const kpiLeft = [2575, 2841.6, 2575, 2841.6];
const kpiTop = [1851.5, 1851.5, 1968, 1968];
kpiNames.forEach((name, i) => {
  svg.append('rect').attr('x', kpiLeft[i]).attr('y', kpiTop[i]).attr('width', 233).attr('height', 91.5)
    .attr('rx', 18).attr('fill', '#f4f5f7');
  svg.append('rect').attr('x', kpiLeft[i]).attr('y', kpiTop[i]).attr('width', 12.6).attr('height', 91.5)
    .attr('fill', kpiColors[i]);
  label(svg, kpiLeft[i] + 29.5, kpiTop[i] + 37.5, name, 24, { fill: MUTED });
  label(svg, kpiLeft[i] + 29.5, kpiTop[i] + 75, kpiValues[i], 36, { weight: 'bold', fill: '#000' });
});

const reviewX = d3.scaleLinear().domain([0, 12]).range([2750, 3041.7]);
const reviewY = d3.scaleBand().domain(reviewNames).range([2055, 2205]);
reviewNames.forEach((name, i) => {
  const y = reviewY(name);
  svg.append('rect').attr('x', reviewX(0)).attr('y', y).attr('width', reviewX(12) - reviewX(0)).attr('height', 16.7).attr('fill', '#eeeff3');
  svg.append('rect').attr('x', reviewX(0)).attr('y', y).attr('width', reviewX(reviewValues[i]) - reviewX(0)).attr('height', 16.7).attr('fill', reviewColors[i]);
  label(svg, 2584.4, y + 16, name, 24, { fill: MUTED });
  label(svg, 3099.5, y + 21, reviewValues[i], 24, { weight: 'bold', fill: '#000', anchor: 'end' });
});

// ---- call to action and footer
card(158, 2288, 3143, 2473);
label(svg, 234, 2369, 'Recommended first step', 48, { weight: 'bold' });
label(svg, 234, 2423, 'Send one historical or sanitized pipe-run dataset. We return a short analytics package with events, charts, review windows, and a sample report.', 32.5, { fill: MUTED });
svg.append('rect').attr('x', 2592).attr('y', 2343).attr('width', 452).attr('height', 84).attr('rx', 42).attr('fill', RED);
label(svg, 2818, 2402, 'REQUEST A PILOT', 30.2, { weight: 'bold', fill: '#fff', anchor: 'middle' });
label(svg, 158, 2522, 'Sanitized demo only. Not a certified integrity assessment, regulatory submission, defect-sizing report, or FFS determination.', 24.2, { fill: '#666b73' });
label(svg, 3143, 2522, 'Phase4 Systems - Pipe Run Analytics', 24.2, { weight: 'bold', anchor: 'end' });
</script>
</body>
</html>
